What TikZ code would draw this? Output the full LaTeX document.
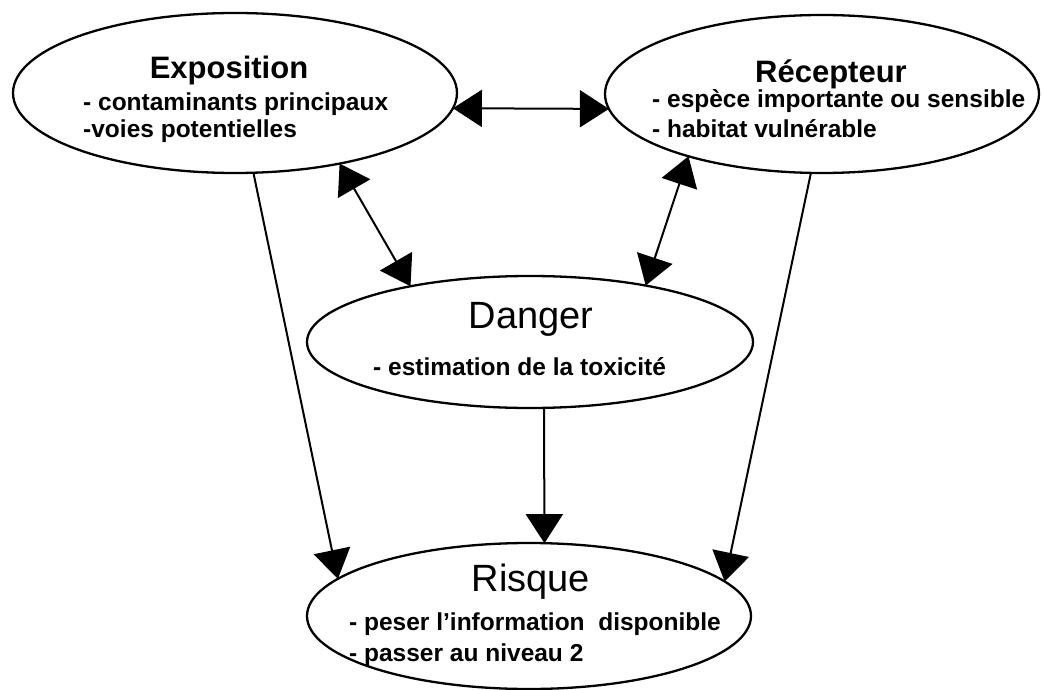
\documentclass[tikz,border=0pt]{standalone}
\usepackage{fontspec}
\setmainfont{Liberation Sans}
\usetikzlibrary{shapes.geometric,arrows.meta}
\begin{document}
\begin{tikzpicture}[x=1pt,y=-1pt,
  bubble/.style={draw=black,line width=2.3pt,ellipse,inner sep=0pt,outer sep=0pt},
  titlebold/.style={anchor=base,inner sep=0pt,font=\fontsize{31}{34}\selectfont\bfseries},
  titleplain/.style={anchor=base,inner sep=0pt,font=\fontsize{38}{42}\selectfont},
  itemtext/.style={anchor=base west,inner sep=0pt,font=\fontsize{24.5}{28}\selectfont\bfseries},
  headtip/.tip={Triangle[length=29pt,width=37pt]},
  link/.style={draw=black,line width=2pt,-{headtip}},
  duallink/.style={draw=black,line width=2pt,{headtip}-{headtip}}]
\useasboundingbox (0,0) rectangle (1042,690);

% the four ellipses
\node[bubble,minimum width=444pt,minimum height=160pt] (expo)  at (235,93)  {};
\node[bubble,minimum width=434pt,minimum height=158pt] (recep) at (822,94)  {};
\node[bubble,minimum width=446pt,minimum height=132pt] (dang)  at (530,342) {};
\node[bubble,minimum width=444pt,minimum height=146pt] (risq)  at (529,616) {};

% texts
\node[titlebold] (expoT) at (229,79) {Exposition};
\node[itemtext] (expoA) at (83,111) {- contaminants principaux};
\node[itemtext] (expoB) at (83,138) {-voies potentielles};

\node[titlebold] (recepT) at (831,83) {Récepteur};
\node[itemtext] (recepA) at (652,108) {- espèce importante ou sensible};
\node[itemtext] (recepB) at (652,138) {- habitat vulnérable};

\node[titleplain] (dangT) at (531,328) {Danger};
\node[itemtext] (dangA) at (373,375) {- estimation de la toxicité};

\node[titleplain] (risqT) at (531,591) {Risque};
\node[itemtext] (risqA) at (349,630) {- peser l'information\ \ disponible};
\node[itemtext] (risqB) at (349,661) {- passer au niveau 2};

% connectors
\draw[duallink] (expo.-4.5) -- (recep.184.3);
\draw[duallink] (expo.-34.4) -- (dang.155);
\draw[duallink] (recep.205.5) -- (dang.26.8);
\draw[link] (expo.-77.3) -- (risq.169.6);
\draw[link] (dang.-78) -- (risq.78.4);
\draw[link] (recep.-98.7) -- (risq.10.6);
\end{tikzpicture}
\end{document}
